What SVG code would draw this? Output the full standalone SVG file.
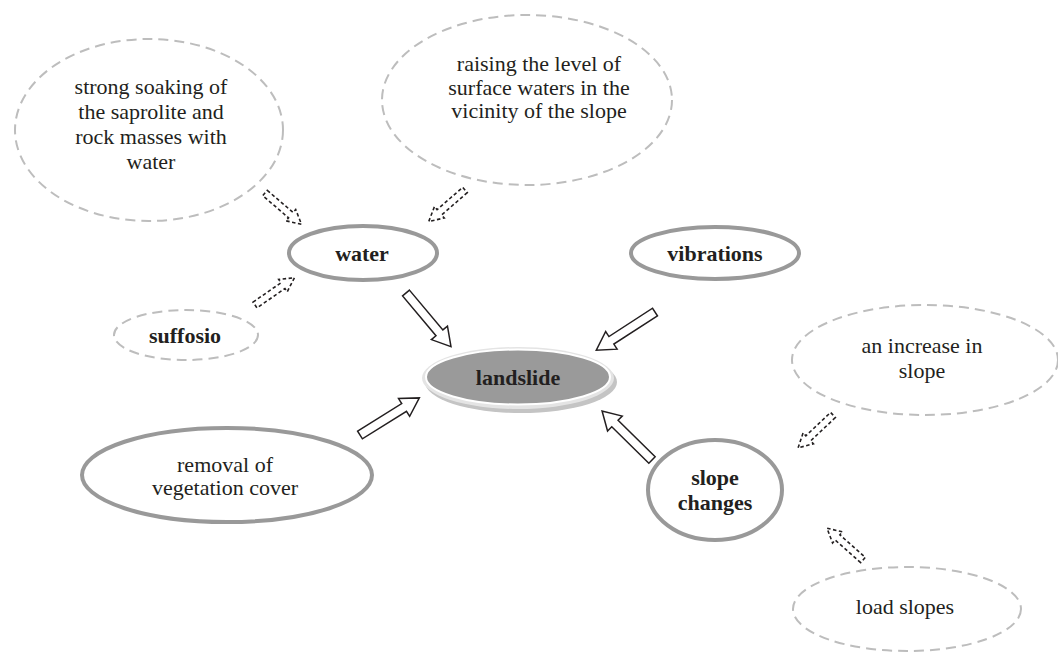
<svg xmlns="http://www.w3.org/2000/svg" width="1058" height="652" viewBox="0 0 1058 652" font-family="'Liberation Serif', 'Times New Roman', serif">
  <style>
    text { font-family: "Liberation Serif", "Times New Roman", serif; }
    .txt { font-size: 22px; fill: #231f20; text-anchor: middle; }
    .bold { font-weight: bold; }
    .solid { fill: #ffffff; stroke: #999999; stroke-width: 4; }
    .dash { fill: #ffffff; stroke: #bdbdbd; stroke-width: 2; stroke-dasharray: 10 6; }
    .blockArrow { fill: #ffffff; stroke: #231f20; stroke-width: 1.5; stroke-linejoin: miter; }
    .dashArrow { fill: #ffffff; stroke: #231f20; stroke-width: 1.6; stroke-dasharray: 3.5 2.5; }
  </style>
  <defs>
    <!-- hollow block arrow, tail at origin, tip at +x 70 -->
    <path id="bigArrow" d="M0,-4.5 L52,-4.5 L52,-10.5 L70,0 L52,10.5 L52,4.5 L0,4.5 Z"/>
    <!-- small dashed block arrow, tail at origin, tip at +x 48 -->
    <path id="smallArrow" d="M0,-3.5 L34,-3.5 L34,-7.5 L48,0 L34,7.5 L34,3.5 L0,3.5 Z"/>
  </defs>
  <rect width="1058" height="652" fill="#ffffff"/>

  <g id="connectors">
    <use href="#bigArrow" class="blockArrow" transform="translate(406,293) rotate(50)"/>
    <use href="#bigArrow" class="blockArrow" transform="translate(655,312) rotate(147)"/>
    <use href="#bigArrow" class="blockArrow" transform="translate(360,435) rotate(-32)"/>
    <use href="#bigArrow" class="blockArrow" transform="translate(652,460) rotate(224.5)"/>
    <use href="#smallArrow" class="dashArrow" transform="translate(265,193) rotate(40.6)"/>
    <use href="#smallArrow" class="dashArrow" transform="translate(465,190) rotate(139)"/>
    <use href="#smallArrow" class="dashArrow" transform="translate(255,305) rotate(-34.7)"/>
    <use href="#smallArrow" class="dashArrow" transform="translate(833,415) rotate(136.7)"/>
    <use href="#smallArrow" class="dashArrow" transform="translate(863,560) rotate(221.5)"/>
  </g>

  <g id="soaking">
    <ellipse class="dash" cx="149" cy="130" rx="134" ry="91"/>
    <text class="txt" x="151" y="94">strong soaking of</text>
    <text class="txt" x="151" y="119">the saprolite and</text>
    <text class="txt" x="151" y="144">rock masses with</text>
    <text class="txt" x="151" y="169">water</text>
  </g>

  <g id="surface-waters">
    <ellipse class="dash" cx="527" cy="100" rx="145" ry="85"/>
    <text class="txt" x="539" y="71">raising the level of</text>
    <text class="txt" x="539" y="95">surface waters in the</text>
    <text class="txt" x="539" y="118">vicinity of the slope</text>
  </g>

  <g id="water">
    <ellipse class="solid" cx="363" cy="253" rx="74" ry="27"/>
    <text class="txt bold" x="362" y="261">water</text>
  </g>

  <g id="vibrations">
    <ellipse class="solid" cx="715" cy="253" rx="84" ry="26"/>
    <text class="txt bold" x="715" y="261">vibrations</text>
  </g>

  <g id="suffosio">
    <ellipse class="dash" cx="186" cy="335" rx="72" ry="25"/>
    <text class="txt bold" x="185" y="343">suffosio</text>
  </g>

  <g id="landslide">
    <ellipse cx="521" cy="382" rx="96" ry="31" fill="#c4c4c4"/>
    <ellipse cx="518" cy="378" rx="96" ry="31" fill="#e4e4e4"/>
    <ellipse cx="518" cy="377" rx="92" ry="27.5" fill="#9a9a9a" stroke="#ffffff" stroke-width="2"/>
    <text class="txt bold" x="518" y="385">landslide</text>
  </g>

  <g id="increase">
    <ellipse class="dash" cx="925" cy="360" rx="133" ry="55"/>
    <text class="txt" x="922" y="353">an increase in</text>
    <text class="txt" x="922" y="378">slope</text>
  </g>

  <g id="removal">
    <ellipse class="solid" cx="227" cy="475" rx="145" ry="47"/>
    <text class="txt" x="225" y="472">removal of</text>
    <text class="txt" x="225" y="495">vegetation cover</text>
  </g>

  <g id="slope-changes">
    <ellipse class="solid" cx="715" cy="490" rx="67" ry="50"/>
    <text class="txt bold" x="715" y="485">slope</text>
    <text class="txt bold" x="715" y="510">changes</text>
  </g>

  <g id="load">
    <ellipse class="dash" cx="907" cy="609" rx="114" ry="42"/>
    <text class="txt" x="905" y="614">load slopes</text>
  </g>
</svg>
